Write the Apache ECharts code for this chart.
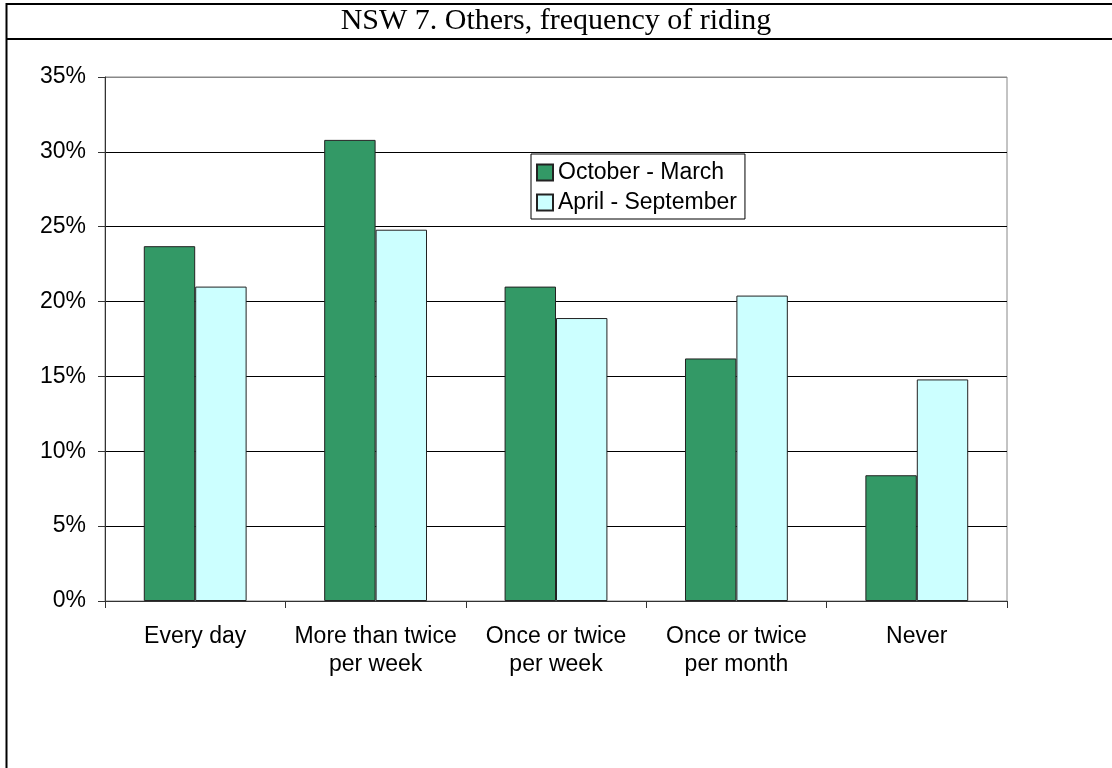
<!DOCTYPE html>
<html>
<head>
<meta charset="utf-8">
<script src="https://cdn.jsdelivr.net/npm/echarts@6/dist/echarts.min.js"></script>
<style>
  html, body { margin: 0; padding: 0; background: #fff; }
  #chart { width: 1112px; height: 768px; }
</style>
</head>
<body>
<div id="chart"></div>
<script>
// data
const categories = ['Every day', 'More than twice\nper week', 'Once or twice\nper week', 'Once or twice\nper month', 'Never']
const octMar = [23.7, 30.8, 21.0, 16.2, 8.4]
const aprSep = [21.0, 24.8, 18.9, 20.4, 14.8]
const seriesNames = ['October - March', 'April - September']

const sans = "'Liberation Sans', Arial, sans-serif"
const serif = "'Liberation Serif', 'Times New Roman', serif"

let chart = echarts.init(document.getElementById('chart'))
let option = {
  animation: false,
  backgroundColor: '#fff',
  title: {
    text: 'NSW 7. Others, frequency of riding',
    left: 'center',
    top: 6,
    padding: 0,
    textStyle: { fontFamily: serif, fontSize: 30, fontWeight: 'normal', color: '#000' }
  },
  // outer frame and title separator
  graphic: [
    { type: 'rect', shape: { x: 6.5, y: 4, width: 1200, height: 900 }, style: { fill: 'none', stroke: '#000', lineWidth: 2 } },
    { type: 'line', shape: { x1: 6, y1: 39, x2: 1112, y2: 39 }, style: { stroke: '#000', lineWidth: 2 } }
  ],
  legend: {
    data: seriesNames,
    orient: 'vertical',
    left: 531,
    top: 154,
    padding: [7, 8, 5, 5],
    itemGap: 7,
    itemWidth: 16,
    itemHeight: 16,
    itemTextGap: 3,
    borderColor: '#000',
    borderWidth: 1,
    icon: 'rect',
    textStyle: { fontFamily: sans, fontSize: 23, color: '#000' }
  },
  grid: {
    left: 105,
    right: 105,
    top: 77,
    bottom: 167,
    show: true,
    borderColor: '#888',
    borderWidth: 1
  },
  xAxis: {
    type: 'category',
    data: categories,
    axisLine: { lineStyle: { color: '#333', width: 1 } },
    axisTick: { show: true, length: 7, lineStyle: { color: '#333' } },
    axisLabel: { interval: 0, margin: 22, fontFamily: sans, fontSize: 23, lineHeight: 28, color: '#000' }
  },
  yAxis: {
    type: 'value',
    min: 0,
    max: 35,
    interval: 5,
    axisLine: { show: true, lineStyle: { color: '#333', width: 1 } },
    axisTick: { show: true, length: 7, lineStyle: { color: '#333' } },
    axisLabel: { formatter: '{value}%', margin: 19, fontFamily: sans, fontSize: 23, color: '#000' },
    splitLine: { show: true, lineStyle: { color: ['#000', '#000', '#000', '#000', '#000', '#000', '#000', '#888'], width: 1 } }
  },
  series: [
    {
      name: seriesNames[0],
      type: 'bar',
      data: octMar,
      barGap: '0%',
      barCategoryGap: '43%',
      itemStyle: { color: '#339966', borderColor: '#222', borderWidth: 1 }
    },
    {
      name: seriesNames[1],
      type: 'bar',
      data: aprSep,
      itemStyle: { color: '#ccffff', borderColor: '#222', borderWidth: 1 }
    }
  ]
}
chart.setOption(option)
</script>
</body>
</html>
